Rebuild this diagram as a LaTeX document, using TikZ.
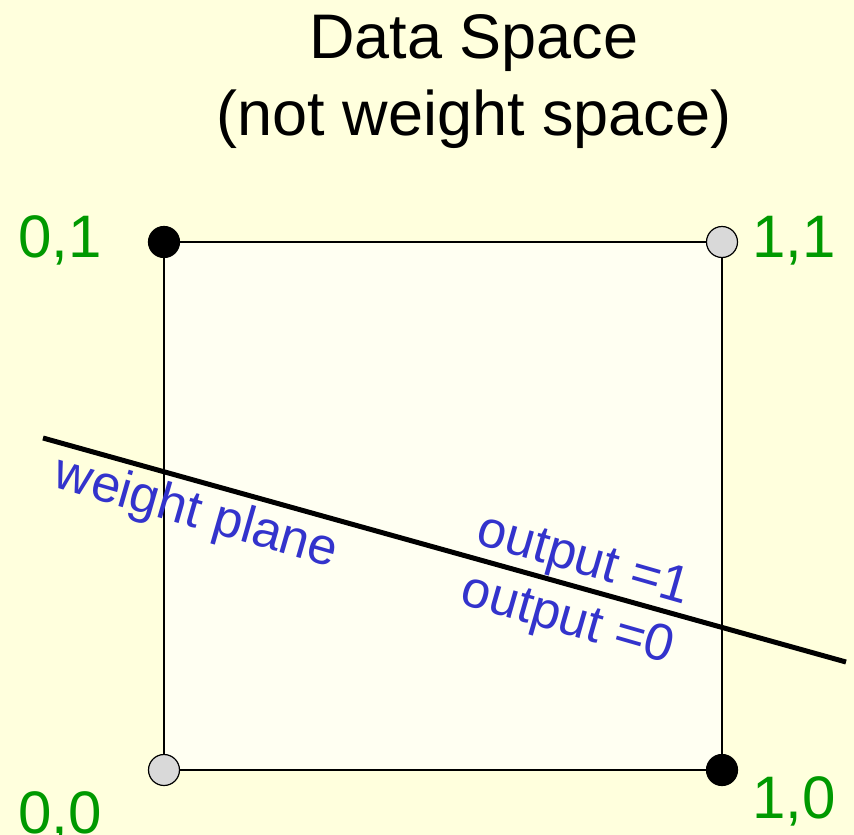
\documentclass[tikz,border=0pt]{standalone}
\usepackage{fontspec}
\setmainfont{Liberation Sans}
\definecolor{bgyellow}{RGB}{255,255,221}
\definecolor{boxfill}{RGB}{255,255,242}
\definecolor{lblgreen}{RGB}{0,153,0}
\definecolor{lblblue}{RGB}{51,51,204}
\definecolor{dotgray}{RGB}{217,217,217}
\tikzset{
  corner/.style={inner sep=0pt, anchor=base west, text=lblgreen, font=\fontsize{60}{60}\selectfont},
  titletext/.style={inner sep=0pt, anchor=base, font=\fontsize{63}{63}\selectfont},
  bluelbl/.style={inner sep=0pt, text=lblblue, rotate=-16, font=\fontsize{52}{52}\selectfont},
  blackdot/.style={circle, fill=black, draw=black, line width=1.2pt, minimum size=31pt, inner sep=0pt},
  graydot/.style={circle, fill=dotgray, draw=black, line width=1.2pt, minimum size=31pt, inner sep=0pt},
}
\begin{document}
\begin{tikzpicture}[x=1pt,y=-1pt]
\fill[bgyellow] (0,0) rectangle (854,835);
\useasboundingbox (0,0) rectangle (854,835);
\coordinate (tl) at (164,242);
\coordinate (tr) at (722,242);
\coordinate (bl) at (164,770);
\coordinate (br) at (722,770);
\draw[fill=boxfill, line width=1.3pt] (tl) -- (tr) -- (br) -- (bl) -- cycle;
\coordinate (ls) at (43,438);
\coordinate (le) at (846,662);
\draw[line width=5pt] (ls) -- (le);
\node[blackdot] (d01) at (tl) {};
\node[graydot] (d11) at (tr) {};
\node[graydot] (d00) at (bl) {};
\node[blackdot] (d10) at (br) {};
\node[titletext] (t1) at (474,58) {Data Space};
\node[titletext] (t2) at (474,135) {(not weight space)};
\node[corner] (l01) at (18,257) {0,1};
\node[corner] (l11) at (752,257) {1,1};
\node[corner] (l00) at (18,833) {0,0};
\node[corner] (l10) at (752,818) {1,0};
\node[bluelbl] (wp) at (196,514) {weight plane};
\node[bluelbl] (o1) at (583,562) {output =1};
\node[bluelbl] (o0) at (567,621) {output =0};
\end{tikzpicture}
\end{document}
